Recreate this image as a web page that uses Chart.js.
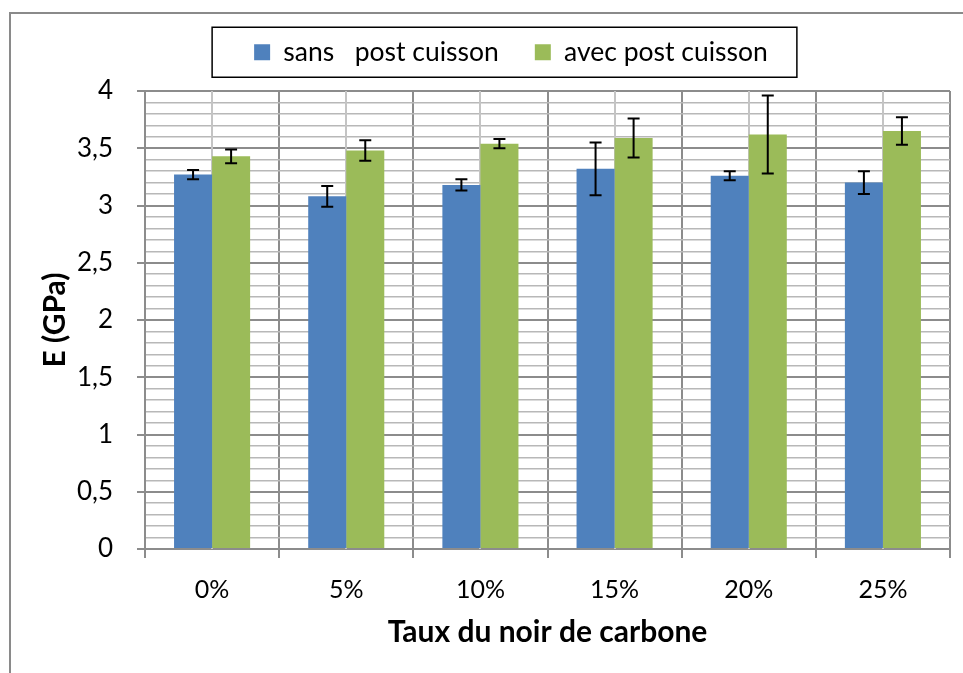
<!DOCTYPE html>
<html>
<head>
<meta charset="utf-8">
<title>Module E selon le taux de noir de carbone</title>
<script src="https://cdn.jsdelivr.net/npm/chart.js@4.4.1/dist/chart.umd.min.js"></script>
<style>
  html, body { margin: 0; padding: 0; background: #fff; }
  canvas { display: block; }
</style>
</head>
<body>
<canvas id="moduleChart" width="963" height="673"></canvas>
<script>
// Taux du noir de carbone
const categories = ["0%", "5%", "10%", "15%", "20%", "25%"];

// Module E (GPa) and standard deviation
const sansPost = [3.27, 3.08, 3.18, 3.32, 3.26, 3.20];
const sansPostErr = [0.04, 0.09, 0.05, 0.23, 0.04, 0.10];
const avecPost = [3.43, 3.48, 3.54, 3.59, 3.62, 3.65];
const avecPostErr = [0.06, 0.09, 0.04, 0.17, 0.34, 0.12];

const FONT = "Lato, 'Open Sans', sans-serif";
const MAJOR_GRID = "#8c8c8c";
const MINOR_GRID = "#b8b8b8";

const isMajor = (v) => Math.abs(v * 2 - Math.round(v * 2)) < 1e-6;

// Error bars drawn on top of each bar
const errorBars = {
    id: "errorBars",
    afterDatasetsDraw(chart, args, opts) {
        const ctx = chart.ctx;
        const y = chart.scales.y;
        ctx.save();
        ctx.strokeStyle = "#000";
        ctx.lineWidth = 2;
        chart.data.datasets.forEach((ds, di) => {
            const meta = chart.getDatasetMeta(di);
            meta.data.forEach((bar, i) => {
                const v = ds.data[i];
                const e = ds.errors[i];
                const top = y.getPixelForValue(v + e);
                const bot = y.getPixelForValue(v - e);
                ctx.beginPath();
                ctx.moveTo(bar.x, top);
                ctx.lineTo(bar.x, bot);
                ctx.moveTo(bar.x - opts.cap, top);
                ctx.lineTo(bar.x + opts.cap, top);
                ctx.moveTo(bar.x - opts.cap, bot);
                ctx.lineTo(bar.x + opts.cap, bot);
                ctx.stroke();
            });
        });
        ctx.restore();
    }
};

// Lighter vertical lines through the middle of each category
const centerLines = {
    id: "centerLines",
    beforeDatasetsDraw(chart) {
        const {ctx, chartArea, scales: {x}} = chart;
        ctx.save();
        ctx.strokeStyle = "#c4c4c4";
        ctx.lineWidth = 2;
        categories.forEach((c, i) => {
            const px = Math.round(x.getPixelForValue(i));
            ctx.beginPath();
            ctx.moveTo(px, chartArea.top);
            ctx.lineTo(px, chartArea.bottom);
            ctx.stroke();
        });
        ctx.restore();
    }
};

// Outer frame and boxed legend
const frames = {
    id: "frames",
    beforeLayout(chart, args, opts) {
        // fixed legend band height above the plot
        const lg = chart.legend;
        if (lg && !lg._fixedFit) {
            const fit = lg.fit;
            lg.fit = function () {
                fit.call(this);
                this.height = opts.legendHeight;
            };
            lg._fixedFit = true;
        }
    },
    afterLayout(chart, args, opts) {
        const lg = chart.legend;
        lg.left += opts.shift;
        lg.right += opts.shift;
        lg.legendHitBoxes.forEach(b => { b.left += opts.shift; });
    },
    afterDraw(chart) {
        const ctx = chart.ctx;
        ctx.save();
        ctx.strokeStyle = "#8a8a8a";
        ctx.lineWidth = 2;
        ctx.beginPath();
        ctx.moveTo(10, chart.height);
        ctx.lineTo(10, 13);
        ctx.lineTo(chart.width, 13);
        ctx.stroke();

        const boxes = chart.legend.legendHitBoxes;
        const first = boxes[0];
        const last = boxes[boxes.length - 1];
        const cy = first.top + first.height / 2;
        const left = first.left - 42;
        const right = last.left + last.width + 29;
        ctx.strokeStyle = "#000";
        ctx.lineWidth = 1.5;
        ctx.strokeRect(left, cy - 25, right - left, 50);
        ctx.restore();
    }
};

const ctx = document.getElementById("moduleChart").getContext("2d");
new Chart(ctx, {
    type: "bar",
    data: {
        labels: categories,
        datasets: [
            {
                label: "sans   post cuisson",
                data: sansPost,
                errors: sansPostErr,
                backgroundColor: "#4f81bd"
            },
            {
                label: "avec post cuisson",
                data: avecPost,
                errors: avecPostErr,
                backgroundColor: "#9bbb59"
            }
        ]
    },
    options: {
        responsive: false,
        animation: false,
        devicePixelRatio: 1,
        categoryPercentage: 0.567,
        barPercentage: 1.0,
        layout: { padding: { left: 30, right: 13, top: 3, bottom: 10 } },
        plugins: {
            tooltip: { enabled: false },
            legend: {
                position: "top",
                labels: {
                    color: "#000",
                    font: { family: FONT, size: 26.5 },
                    boxWidth: 16,
                    boxHeight: 16,
                    padding: 36
                }
            },
            errorBars: { cap: 6 },
            frames: { shift: 21, legendHeight: 88 }
        },
        scales: {
            x: {
                afterFit: (scale) => { scale.height = 114; },
                grid: {
                    offset: true,
                    color: MAJOR_GRID,
                    lineWidth: 2,
                    tickLength: 9,
                    tickColor: MAJOR_GRID
                },
                border: { color: MAJOR_GRID, width: 2 },
                ticks: {
                    color: "#000",
                    font: { family: FONT, size: 25 },
                    padding: 17,
                    maxRotation: 0
                },
                title: {
                    display: true,
                    text: "Taux du noir de carbone",
                    color: "#000",
                    font: { family: FONT, size: 30, weight: "bold" },
                    padding: { top: 0, bottom: 13 }
                }
            },
            y: {
                min: 0,
                max: 4,
                afterFit: (scale) => { scale.width = 115; },
                grid: {
                    color: (c) => isMajor(c.tick.value) ? MAJOR_GRID : MINOR_GRID,
                    lineWidth: (c) => isMajor(c.tick.value) ? 2 : 1.5,
                    tickLength: 8,
                    tickColor: (c) => isMajor(c.tick.value) ? MAJOR_GRID : "rgba(0,0,0,0)"
                },
                border: { color: MAJOR_GRID, width: 2 },
                ticks: {
                    stepSize: 0.1,
                    autoSkip: false,
                    color: "#000",
                    font: { family: FONT, size: 26 },
                    padding: 24,
                    callback: (v) => isMajor(v) ? String(Math.round(v * 2) / 2).replace(".", ",") : ""
                },
                title: {
                    display: true,
                    text: "E (GPa)",
                    color: "#000",
                    font: { family: FONT, size: 30, weight: "bold" },
                    padding: { top: 7, bottom: 0 }
                }
            }
        }
    },
    plugins: [errorBars, centerLines, frames]
});
</script>
</body>
</html>
